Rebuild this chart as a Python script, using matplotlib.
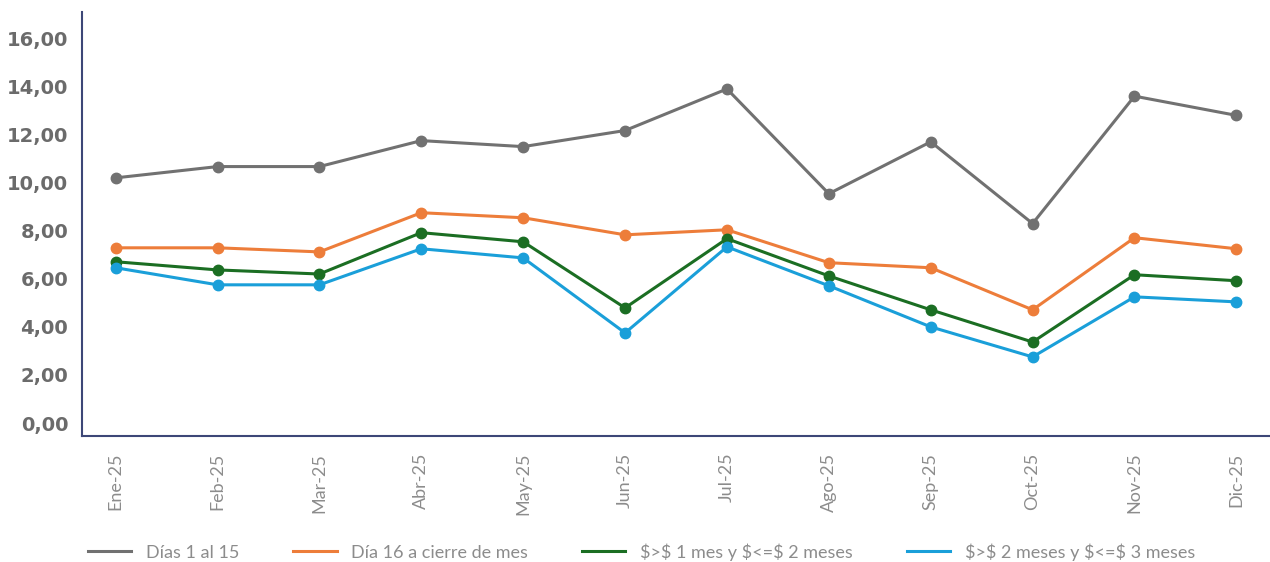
import matplotlib
matplotlib.use('Agg')
import matplotlib.pyplot as plt

# meses
meses = ['Ene-25', 'Feb-25', 'Mar-25', 'Abr-25', 'May-25', 'Jun-25',
         'Jul-25', 'Ago-25', 'Sep-25', 'Oct-25', 'Nov-25', 'Dic-25']

# series
dias_1_15 = [10.20, 10.67, 10.67, 11.75, 11.50, 12.17, 13.90, 9.54, 11.70, 8.30, 13.60, 12.80]
dia_16_cierre = [7.29, 7.29, 7.12, 8.75, 8.54, 7.83, 8.04, 6.67, 6.46, 4.71, 7.71, 7.25]
mes_1_2 = [6.71, 6.37, 6.20, 7.92, 7.54, 4.79, 7.67, 6.12, 4.71, 3.37, 6.17, 5.92]
mes_2_3 = [6.46, 5.75, 5.75, 7.25, 6.87, 3.75, 7.33, 5.71, 4.00, 2.75, 5.25, 5.04]

etiquetas = ['Días 1 al 15', 'Día 16 a cierre de mes',
             r'\$>\$ 1 mes y \$<=\$ 2 meses', r'\$>\$ 2 meses y \$<=\$ 3 meses']
colores = ['#717171', '#ed7d3a', '#1b6e23', '#1a9fd9']

fig = plt.figure(figsize=(12.7, 5.62), dpi=100)
ax = fig.add_axes([0.0646, 0.2242, 0.9354, 0.7544])

x = list(range(len(meses)))
for serie, lab, col in zip([dias_1_15, dia_16_cierre, mes_1_2, mes_2_3], etiquetas, colores):
    ax.plot(x, serie, color=col, lw=2.2, marker='o', markersize=7.5, label=lab)

ax.set_xlim(-0.33, 11.33)
ax.set_ylim(-0.54, 17.1)
ax.set_yticks(range(0, 17, 2))
ax.set_yticklabels(['{:.2f}'.format(v).replace('.', ',') for v in range(0, 17, 2)],
                   fontsize=14, fontweight='bold', color='#6b6b6b', family='DejaVu Sans')
ax.set_xticks(x)
ax.set_xticklabels(meses, rotation=90, fontsize=13, color='#8c8c8c', family='Lato')
ax.tick_params(axis='both', length=0)
ax.tick_params(axis='y', pad=10)
ax.tick_params(axis='x', pad=12)

for s in ['top', 'right']:
    ax.spines[s].set_visible(False)
for s in ['left', 'bottom']:
    ax.spines[s].set_color('#3d4777')
    ax.spines[s].set_linewidth(1.5)

fig.legend(loc='center', bbox_to_anchor=(0.505, 0.018), ncol=4, frameon=False,
           prop={'family': 'Lato', 'size': 13}, labelcolor='#8c8c8c',
           handlelength=2.4, columnspacing=3.0, handletextpad=0.8)
for h in fig.legends[0].legend_handles:
    h.set_marker('')

fig.savefig('out.png', dpi=100)
